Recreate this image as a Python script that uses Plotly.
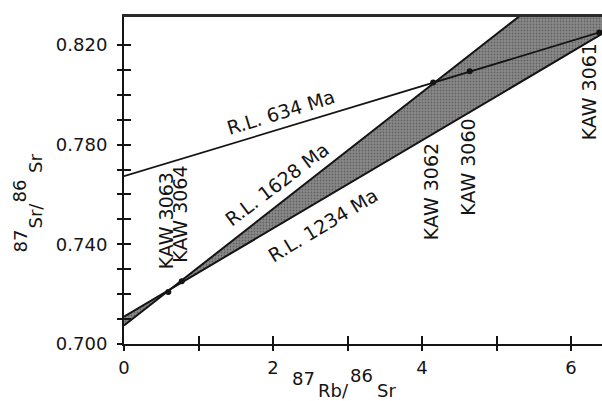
import numpy as np
import plotly.graph_objects as go

# Whole-rock samples: 87Rb/86Sr and 87Sr/86Sr
samples = ["KAW 3063", "KAW 3064", "KAW 3062", "KAW 3060", "KAW 3061"]
rb_sr = [0.595, 0.775, 4.15, 4.64, 6.38]
sr_sr = [0.7209, 0.7252, 0.8049, 0.8094, 0.8250]

# Reference lines (R.L.): age in Ma and initial 87Sr/86Sr
rl_ages = [634, 1628, 1234]
rl_initial = [0.7673, 0.7074, 0.7110]

LAMBDA_RB = 1.42e-11  # 87Rb decay constant, 1/yr

x_ticks = [0, 1, 2, 3, 4, 5, 6]
x_ticktext = ["0", "", "2", "", "4", "", "6"]
y_ticks = [round(0.70 + 0.01 * i, 2) for i in range(13)]
y_ticktext = [f"{v:.3f}" if i % 4 == 0 else "" for i, v in enumerate(y_ticks)]

X_MAX = 6.416
Y_RANGE = [0.700, 0.8312]

# page geometry
W, H = 602, 401
ML, MR, MT, MB = 124, 0, 17, 57
FONT = "DejaVu Sans"
INK = "#141414"


def px_x(px):
    return (px - ML) / (W - ML - MR)


def px_y(py):
    return (H - MB - py) / (H - MT - MB)


def rl_line(age, r0):
    slope = np.exp(LAMBDA_RB * age * 1e6) - 1.0
    xs = np.array([0.0, X_MAX])
    return xs, r0 + slope * xs


fig = go.Figure()

# shaded envelope between the 1234 Ma and 1628 Ma reference lines
x_lo, y_lo = rl_line(rl_ages[2], rl_initial[2])
x_hi, y_hi = rl_line(rl_ages[1], rl_initial[1])
fig.add_trace(go.Scatter(x=x_lo, y=y_lo, mode="lines",
                         line=dict(color=INK, width=2), hoverinfo="skip"))
fig.add_trace(go.Scatter(x=x_hi, y=y_hi, mode="lines", fill="tonexty",
                         fillcolor="#858585",
                         fillpattern=dict(shape=".", bgcolor="#8a8a8a",
                                          fgcolor="#383838", size=3, solidity=0.3),
                         line=dict(color=INK, width=2), hoverinfo="skip"))

# 634 Ma reference line
x_y, y_y = rl_line(rl_ages[0], rl_initial[0])
fig.add_trace(go.Scatter(x=x_y, y=y_y, mode="lines",
                         line=dict(color=INK, width=1.8), hoverinfo="skip"))

# sample points
fig.add_trace(go.Scatter(x=rb_sr, y=sr_sr, mode="markers",
                         marker=dict(color=INK, size=6), hoverinfo="skip"))

# helper traces so the overlay axes are drawn
fig.add_trace(go.Scatter(x=[None], y=[None], xaxis="x2", yaxis="y2",
                         hoverinfo="skip"))
fig.add_trace(go.Scatter(x=[None], y=[None], xaxis="x3", yaxis="y",
                         hoverinfo="skip"))

tick_font = dict(family=FONT, size=18, color=INK)

fig.update_layout(
    width=W, height=H,
    margin=dict(l=ML, r=MR, t=MT, b=MB, pad=0),
    paper_bgcolor="white", plot_bgcolor="white",
    showlegend=False,
    xaxis=dict(range=[0, X_MAX], showgrid=False, zeroline=False,
               showline=True, linewidth=2, linecolor=INK,
               ticks="outside", ticklen=5, tickwidth=2, tickcolor=INK,
               tickvals=x_ticks, ticktext=x_ticktext, tickfont=tick_font,
               ticklabelstandoff=1),
    yaxis=dict(range=Y_RANGE, showgrid=False, zeroline=False,
               showline=True, linewidth=2, linecolor=INK,
               ticks="outside", ticklen=5, tickwidth=2, tickcolor=INK,
               tickvals=y_ticks, ticktext=y_ticktext, tickfont=tick_font,
               ticklabelstandoff=6),
    xaxis2=dict(range=[0, X_MAX], overlaying="x", anchor="y2",
                showgrid=False, zeroline=False, showline=False,
                ticks="inside", ticklen=8, tickwidth=2, tickcolor=INK,
                tickvals=x_ticks, showticklabels=False),
    yaxis2=dict(range=Y_RANGE, overlaying="y", anchor="x2",
                showgrid=False, zeroline=False, showline=False,
                ticks="inside", ticklen=7, tickwidth=2, tickcolor=INK,
                tickvals=y_ticks, showticklabels=False),
    xaxis3=dict(range=[0, X_MAX], overlaying="x", anchor="y", side="top",
                showgrid=False, zeroline=False, showline=True,
                linewidth=3, linecolor="#2a2a2a", ticks="",
                showticklabels=False),
)

ann_font = dict(family=FONT, size=19, color=INK)

# reference line labels
for text, cx, cy, ang in [
    ("R.L. 634 Ma", 281, 112, -17),
    ("R.L. 1628 Ma", 277, 184, -37),
    ("R.L. 1234 Ma", 323, 225, -31),
]:
    fig.add_annotation(text=text, xref="paper", yref="paper",
                       x=px_x(cx), y=px_y(cy), xanchor="center",
                       yanchor="middle", textangle=ang, showarrow=False,
                       font=ann_font)

# sample labels, vertical, above their points
label_centres = [221, 214, 192, 167, 92]
label_shifts = [-2, -2, -2, -2, -10]
for name, xv, cy, dx in zip(samples, rb_sr, label_centres, label_shifts):
    fig.add_annotation(text=name, xref="x", yref="paper", x=xv, y=px_y(cy),
                       xshift=dx, xanchor="center", yanchor="middle",
                       textangle=-90, showarrow=False, font=ann_font)

# axis titles with full-size raised mass numbers
title_font = dict(family=FONT, size=18, color=INK)
for text, cx, cy in [("87", 303.5, 378), ("Rb/", 333.5, 390),
                     ("86", 361.5, 375), ("Sr", 386, 390)]:
    fig.add_annotation(text=text, xref="paper", yref="paper",
                       x=px_x(cx), y=px_y(cy), xanchor="center",
                       yanchor="middle", showarrow=False, font=title_font)

for text, cx, cy in [("87", 19.5, 241), ("Sr/", 35, 215.5),
                     ("86", 19.5, 191), ("Sr", 35, 164)]:
    fig.add_annotation(text=text, xref="paper", yref="paper",
                       x=px_x(cx), y=px_y(cy), xanchor="center",
                       yanchor="middle", textangle=-90, showarrow=False,
                       font=title_font)

fig.write_html("out.html")
